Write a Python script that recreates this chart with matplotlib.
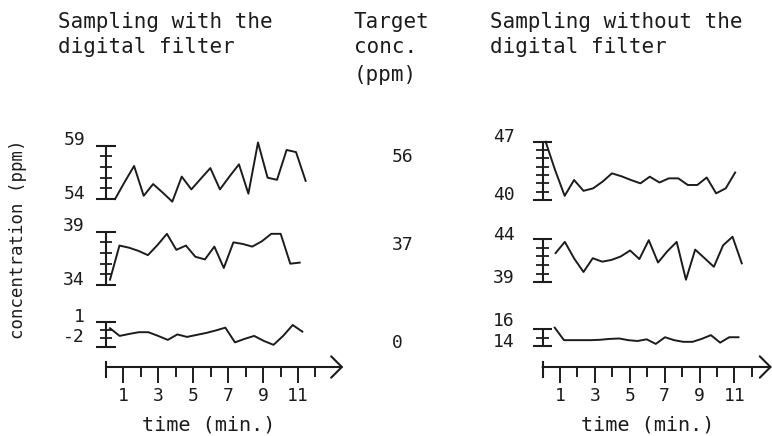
import matplotlib
matplotlib.use('Agg')
import matplotlib.pyplot as plt

W, H, DPI = 772, 436, 100
PX_MIN = 17.45          # pixels per minute on both time axes
INK = '#1c1c1c'

plt.rcParams['font.family'] = ['DejaVu Sans Mono', 'DejaVu Sans']

# ---- values ----
major_ticks = [1, 3, 5, 7, 9, 11]
minor_ticks = [2, 4, 6, 8, 10, 12]
target_conc = ['56', '37', '0']

# sampling with the digital filter
t_f56 = [0.52, 1.07, 1.61, 2.16, 2.70, 3.25, 3.80, 4.34, 4.89, 5.43, 5.98,
         6.53, 7.07, 7.62, 8.16, 8.71, 9.26, 9.80, 10.35, 10.89, 11.44]
c_f56 = [54.0, 55.6, 57.1, 54.3, 55.4, 54.6, 53.75, 56.1, 54.9, 55.9, 56.9,
         54.9, 56.1, 57.25, 54.5, 59.3, 56.0, 55.8, 58.6, 58.4, 55.7]
t_f37 = [0.23, 0.77, 1.32, 1.86, 2.40, 2.95, 3.49, 4.03, 4.58, 5.12, 5.67,
         6.21, 6.75, 7.30, 7.84, 8.38, 8.93, 9.47, 10.01, 10.56, 11.10]
c_f37 = [34.5, 37.7, 37.5, 37.2, 36.8, 37.75, 38.8, 37.3, 37.7, 36.65, 36.4,
         37.6, 35.6, 38.0, 37.85, 37.6, 38.1, 38.8, 38.8, 36.0, 36.1]
t_f0 = [0.23, 0.78, 1.33, 1.88, 2.43, 2.99, 3.54, 4.09, 4.64, 5.19, 5.74,
        6.29, 6.84, 7.39, 7.94, 8.49, 9.04, 9.60, 10.15, 10.70, 11.25]
c_f0 = [0.21, -0.72, -0.48, -0.27, -0.27, -0.72, -1.2, -0.54, -0.84, -0.6, -0.36,
        -0.06, 0.28, -1.5, -1.08, -0.72, -1.32, -1.8, -0.72, 0.6, -0.2]

# sampling without the digital filter
t_n56 = [0.18, 0.72, 1.27, 1.81, 2.35, 2.90, 3.44, 3.98, 4.52, 5.07, 5.61,
         6.15, 6.70, 7.24, 7.78, 8.33, 8.87, 9.41, 9.95, 10.50, 11.04]
c_n56 = [47.0, 43.6, 40.5, 42.4, 41.1, 41.4, 42.2, 43.2, 42.85, 42.4, 42.0,
         42.8, 42.1, 42.6, 42.6, 41.8, 41.8, 42.7, 40.8, 41.4, 43.3]
t_n37 = [0.75, 1.28, 1.82, 2.35, 2.88, 3.42, 3.95, 4.48, 5.02, 5.55, 6.09,
         6.62, 7.15, 7.69, 8.22, 8.75, 9.29, 9.82, 10.35, 10.89, 11.42]
c_n37 = [42.4, 43.7, 41.75, 40.2, 41.8, 41.4, 41.6, 42.0, 42.7, 41.7, 43.9,
         41.3, 42.6, 43.7, 39.3, 42.8, 41.8, 40.8, 43.3, 44.3, 41.2]
t_n0 = [0.70, 1.23, 1.75, 2.28, 2.81, 3.33, 3.86, 4.39, 4.91, 5.44, 5.97,
        6.49, 7.02, 7.54, 8.07, 8.60, 9.12, 9.65, 10.18, 10.70, 11.23]
c_n0 = [16.2, 14.7, 14.7, 14.7, 14.7, 14.75, 14.85, 14.9, 14.7, 14.6, 14.8,
        14.25, 15.05, 14.7, 14.5, 14.5, 14.85, 15.3, 14.4, 15.05, 15.05]

# scale ends of each strip: (bottom, top)
r_f56, r_f37, r_f0 = (54, 59), (34, 39), (-2, 1)
r_n56, r_n37, r_n0 = (40, 47), (39, 44), (14, 16)

fig = plt.figure(figsize=(W / DPI, H / DPI), dpi=DPI)
fig.patch.set_facecolor('white')


def ftext(x, y, s, **kw):
    kw.setdefault('color', INK)
    fig.text(x / W, 1 - y / H, s, **kw)


def strip(x0, y_top, y_bot, rng, t, c, lab_x, lab_y):
    v_bot, v_top = rng
    xa, xb = x0 - 25, x0 + 14 * PX_MIN
    ya, yb = y_top - 15, y_bot + 15
    ax = fig.add_axes([xa / W, 1 - yb / H, (xb - xa) / W, (yb - ya) / H])
    k = (v_top - v_bot) / (y_bot - y_top)
    ax.set_ylim(v_bot - (yb - y_bot) * k, v_top + (y_top - ya) * k)
    ax.set_xlim((xa - x0) / PX_MIN, (xb - x0) / PX_MIN)
    ax.axis('off')
    # I-beam scale
    ax.vlines(0, v_bot, v_top, color=INK, lw=1.5)
    ax.hlines(list(range(v_bot + 1, v_top)), -0.35, 0.35, color=INK, lw=1.3)
    ax.hlines([v_bot, v_top], -0.55, 0.55, color=INK, lw=1.5)
    ax.plot(t, c, color=INK, lw=1.4, clip_on=False)
    ftext(lab_x, lab_y[0], str(v_top), ha='right', va='center', fontsize=13)
    ftext(lab_x, lab_y[1], str(v_bot), ha='right', va='center', fontsize=13)


def time_axis(x0, tip):
    xa, xb = x0 - 25, x0 + 14 * PX_MIN
    ax = fig.add_axes([xa / W, 1 - 367 / H, (xb - xa) / W, 10 / H])
    ax.set_xlim((xa - x0) / PX_MIN, (xb - x0) / PX_MIN)
    ax.set_ylim(0, 10)
    for s in ax.spines.values():
        s.set_visible(False)
    ax.patch.set_visible(False)
    ax.set_yticks([])
    ax.set_xticks(major_ticks, [str(v) for v in major_ticks])
    ax.set_xticks(minor_ticks, minor=True)
    ax.tick_params(which='major', length=11.5, width=1.4, pad=3,
                   labelsize=13, color=INK, labelcolor=INK)
    ax.tick_params(which='minor', length=7, width=1.4, color=INK)
    ax.plot([0, 0], [-10, 5], color=INK, lw=1.5, clip_on=False)
    ax.annotate('', xy=(tip, 0), xytext=(0, 0), annotation_clip=False,
                arrowprops=dict(arrowstyle='->,head_length=0.55,head_width=0.55',
                                mutation_scale=14, lw=1.5, color=INK,
                                shrinkA=0, shrinkB=0))


# left panel
x_left = 106
strip(x_left, 145.7, 199, r_f56, t_f56, c_f56, 85, (140, 194))
strip(x_left, 231.7, 285, r_f37, t_f37, c_f37, 85, (226, 280))
strip(x_left, 321.7, 346.5, r_f0, t_f0, c_f0, 85, (317, 337))
time_axis(x_left, 13.6)

# right panel
x_right = 542.5
strip(x_right, 141.7, 200, r_n56, t_n56, c_n56, 515, (137, 195))
strip(x_right, 239.3, 282.3, r_n37, t_n37, c_n37, 515, (235, 278))
strip(x_right, 329.3, 346, r_n0, t_n0, c_n0, 515, (321, 342))
time_axis(x_right, 13.15)

# headers
HS = 15
ftext(58, 28, 'Sampling with the', fontsize=HS, va='baseline')
ftext(58, 53, 'digital filter', fontsize=HS, va='baseline')
ftext(354, 28, 'Target', fontsize=HS, va='baseline')
ftext(354, 53, 'conc.', fontsize=HS, va='baseline')
ftext(354, 81, '(ppm)', fontsize=HS, va='baseline')
ftext(490, 28, 'Sampling without the', fontsize=HS, va='baseline')
ftext(490, 53, 'digital filter', fontsize=HS, va='baseline')

for s, y in zip(target_conc, [157, 245, 343]):
    ftext(392, y, s, fontsize=13, va='center', ha='left')

ftext(18, 239, 'concentration (ppm)', fontsize=12.5, rotation=90,
      ha='center', va='center')
ftext(209, 425, 'time (min.)', fontsize=14.5, ha='center', va='center')
ftext(648, 425, 'time (min.)', fontsize=14.5, ha='center', va='center')

fig.savefig('out.png', dpi=DPI, facecolor='white')
